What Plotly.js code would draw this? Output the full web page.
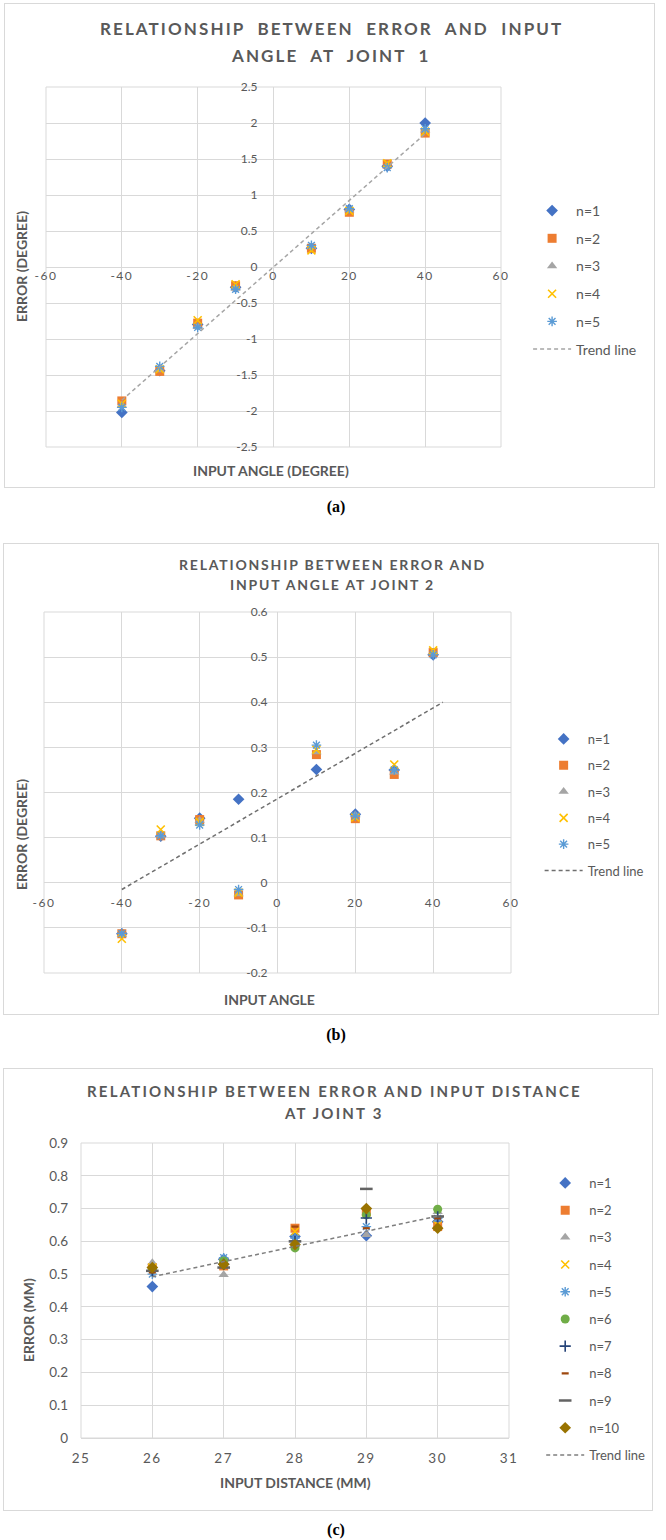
<!DOCTYPE html>
<html>
<head>
<meta charset="utf-8">
<script src="https://cdn.plot.ly/plotly-3.0.1.min.js"></script>
<style>
    body { margin: 0; width: 666px; height: 1540px; background: #fff; position: relative; }
    .panel { position: absolute; border: 1px solid #d9d9d9; box-sizing: border-box; }
    .caption { position: absolute; left: 0; width: 672px; text-align: center;
               font: bold 16px "Liberation Serif", "Times New Roman", serif; color: #000; }
    .xtick text { letter-spacing: 1.5px; }
</style>
</head>
<body>
<div id="chart-a" class="panel" style="left:4px; top:3px; width:651px; height:485px;"></div>
<div class="caption" style="top:498px;">(a)</div>
<div id="chart-b" class="panel" style="left:3px; top:543px; width:656px; height:472px;"></div>
<div class="caption" style="top:1026px;">(b)</div>
<div id="chart-c" class="panel" style="left:3px; top:1068px; width:650px; height:443px;"></div>
<div class="caption" style="top:1521px;">(c)</div>

<script>
// ---- data ----
// (a) joint 1: error vs input angle
const anglesA = [-40, -30, -20, -10, 10, 20, 30, 40];
const a_n1 = [-2.02, -1.44, -0.80, -0.28, 0.26, 0.80, 1.40, 2.00];
const a_n2 = [-1.86, -1.45, -0.78, -0.26, 0.26, 0.76, 1.43, 1.86];
const a_n3 = [-1.92, -1.43, -0.83, -0.30, 0.28, 0.79, 1.41, 1.90];
const a_n4 = [-1.90, -1.42, -0.74, -0.24, 0.23, 0.78, 1.44, 1.88];
const a_n5 = [-1.95, -1.38, -0.84, -0.31, 0.30, 0.81, 1.38, 1.92];
const trendAx = [-40, 40];
const trendAy = [-1.85, 1.85];

// (b) joint 2: error vs input angle
const anglesB = [-40, -30, -20, -10, 10, 20, 30, 40];
const b_n1 = [-0.113, 0.103, 0.143, 0.185, 0.251, 0.152, 0.250, 0.505];
const b_n2 = [-0.113, 0.104, 0.140, -0.027, 0.284, 0.142, 0.240, 0.510];
const b_n3 = [-0.115, 0.105, 0.138, -0.025, 0.290, 0.150, 0.245, 0.510];
const b_n4 = [-0.124, 0.118, 0.135, -0.022, 0.295, 0.145, 0.262, 0.515];
const b_n5 = [-0.112, 0.104, 0.128, -0.015, 0.305, 0.148, 0.250, 0.505];
const trendBx = [-40, 42.5];
const trendBy = [-0.015, 0.40];

// (c) joint 3: error vs input distance
const distC = [26, 27, 28, 29, 30];
const c_n1 = [0.462, 0.545, 0.615, 0.617, 0.660];
const c_n2 = [0.520, 0.525, 0.640, 0.690, 0.645];
const c_n3 = [0.535, 0.498, 0.590, 0.620, 0.690];
const c_n4 = [0.520, 0.535, 0.630, 0.690, 0.650];
const c_n5 = [0.500, 0.550, 0.610, 0.645, 0.670];
const c_n6 = [0.515, 0.540, 0.580, 0.681, 0.698];
const c_n7 = [0.510, 0.530, 0.600, 0.671, 0.675];
const c_n8 = [0.505, 0.525, 0.645, 0.640, 0.670];
const c_n9 = [0.510, 0.520, 0.600, 0.760, 0.676];
const c_n10 = [0.520, 0.530, 0.590, 0.700, 0.640];
const trendCx = [26, 30];
const trendCy = [0.492, 0.677];

// axes ticks
const xTicksAB = [-60, -40, -20, 0, 20, 40, 60];
const yTicksA = [-2.5, -2, -1.5, -1, -0.5, 0, 0.5, 1, 1.5, 2, 2.5];
const yTicksB = [-0.2, -0.1, 0, 0.1, 0.2, 0.3, 0.4, 0.5, 0.6];
const xTicksC = [25, 26, 27, 28, 29, 30, 31];
const yTicksC = [0, 0.1, 0.2, 0.3, 0.4, 0.5, 0.6, 0.7, 0.8, 0.9];

// excel-like marker styles for n=1..n=10
const markerStyles = [
    { symbol: 'diamond', color: '#4472C4', size: 9 },
    { symbol: 'square', color: '#ED7D31', size: 9 },
    { symbol: 'triangle-up', color: '#A5A5A5', size: 9 },
    { symbol: 'x-thin-open', color: '#FFC000', size: 8, lw: 1.6 },
    { symbol: 'asterisk-open', color: '#5B9BD5', size: 8, lw: 1.4 },
    { symbol: 'circle', color: '#70AD47', size: 9 },
    { symbol: 'cross-thin-open', color: '#264478', size: 8, lw: 1.6 },
    { symbol: 'line-ew-open', color: '#9E480E', size: 5, lw: 2.2 },
    { symbol: 'line-ew-open', color: '#636363', size: 9, lw: 2.5 },
    { symbol: 'diamond', color: '#997300', size: 9 }
];

const TEXT = '#595959';
const GRID = '#d9d9d9';
const FONT = 'Lato, "Open Sans", sans-serif';

function buildTraces(xs, series, trendX, trendY, trendColor) {
    const traces = series.map((ys, i) => {
        const st = markerStyles[i];
        return {
            type: 'scatter', mode: 'markers', name: 'n=' + (i + 1),
            legendgroup: 'g' + i,
            x: xs, y: ys,
            marker: {
                symbol: st.symbol, size: st.size, color: st.color,
                line: { color: st.color, width: st.lw || 0 }
            }
        };
    });
    traces.push({
        type: 'scatter', mode: 'lines', name: 'Trend line', legendgroup: 'trend',
        x: trendX, y: trendY,
        line: { color: trendColor, width: 1.5, dash: '4px,3px' }
    });
    return traces;
}

function axis(range, ticks, size) {
    return {
        range: range, tickmode: 'array', tickvals: ticks, ticktext: ticks.map(String),
        showgrid: true, gridcolor: GRID, gridwidth: 1,
        zeroline: true, zerolinecolor: GRID, zerolinewidth: 1,
        showline: false, ticks: '',
        tickfont: { family: FONT, size: size, color: TEXT },
        fixedrange: true
    };
}

// container pixel -> paper coords for annotations
function toPaper(px, py, w, h, m) {
    const pw = w - m.l - m.r, ph = h - m.t - m.b;
    return { x: (px - m.l) / pw, y: 1 - (py - m.t) / ph };
}

function textAt(text, px, py, w, h, m, opt) {
    const p = toPaper(px, py, w, h, m);
    return {
        text: text, xref: 'paper', yref: 'paper', x: p.x, y: p.y,
        xanchor: 'center', yanchor: 'middle', showarrow: false,
        textangle: opt.rotate ? -90 : 0,
        font: { family: FONT, size: opt.size, color: TEXT, weight: 'bold' }
    };
}

function drawPanel(id, opts) {
    const w = opts.w, h = opts.h, m = opts.margin;
    const xr = opts.xRange, yr = opts.yRange;
    const xaxis = axis(xr, opts.xTicks, opts.tickSize);
    const yaxis = axis(yr, opts.yTicks, opts.tickSize);
    xaxis.ticklabelstandoff = opts.xStandoff;
    yaxis.ticklabelstandoff = opts.yStandoff;
    if (opts.crossAtZero) {
        // excel style: axes cross at the origin
        xaxis.anchor = 'free';
        xaxis.position = (0 - yr[0]) / (yr[1] - yr[0]);
        yaxis.anchor = 'free';
        yaxis.position = (0 - xr[0]) / (xr[1] - xr[0]);
    }

    // chart title, one annotation per line (excel spaces the lines wider than plotly)
    const spaced = t => '<span style="letter-spacing:' + opts.titleSpacing + 'px">' + t + '</span>';
    const annotations = opts.titleLines.map(ln =>
        textAt(spaced(ln[0]), opts.titleX, ln[1], w, h, m, { size: opts.titleSize }));
    annotations.push(textAt(opts.xTitle[0], opts.xTitle[1], opts.xTitle[2], w, h, m, { size: 14 }));
    annotations.push(textAt(opts.yTitle[0], opts.yTitle[1], opts.yTitle[2], w, h, m, { size: 14, rotate: true }));

    const layout = {
        width: w, height: h, margin: m,
        paper_bgcolor: '#fff', plot_bgcolor: '#fff',
        font: { family: FONT, color: TEXT },
        xaxis: xaxis, yaxis: yaxis,
        showlegend: true,
        legend: {
            xref: 'container', yref: 'container', x: opts.legendX, y: opts.legendY,
            xanchor: 'left', yanchor: 'top', bgcolor: 'rgba(0,0,0,0)', maxheight: 420,
            font: { family: FONT, size: opts.legendSize, color: TEXT },
            tracegroupgap: opts.legendGap, itemwidth: 38
        },
        // outer gridlines of the plot area
        shapes: [{
            type: 'rect', xref: 'paper', yref: 'paper', x0: 0, x1: 1, y0: 0, y1: 1,
            line: { color: GRID, width: 1 }, layer: 'below'
        }],
        annotations: annotations
    };
    Plotly.newPlot(id, opts.traces, layout, { displayModeBar: false, staticPlot: true });
}

drawPanel('chart-a', {
    w: 649, h: 483, margin: { l: 41, r: 153, t: 83, b: 40 },
    xRange: [-60, 60], yRange: [-2.5, 2.5], xTicks: xTicksAB, yTicks: yTicksA,
    tickSize: 12, xStandoff: 0, yStandoff: 16, crossAtZero: true,
    titleLines: [['RELATIONSHIP  BETWEEN  ERROR  AND  INPUT', 25], ['ANGLE  AT  JOINT  1', 51]],
    titleX: 326, titleSize: 17, titleSpacing: 2.1,
    legendX: 0.806, legendY: 1 - 191 / 483, legendSize: 14, legendGap: 6.5,
    xTitle: ['INPUT ANGLE (DEGREE)', 266, 466], yTitle: ['ERROR (DEGREE)', 16, 263],
    traces: buildTraces(anglesA, [a_n1, a_n2, a_n3, a_n4, a_n5], trendAx, trendAy, '#A5A5A5')
});

drawPanel('chart-b', {
    w: 654, h: 470, margin: { l: 40, r: 147, t: 68, b: 41 },
    xRange: [-60, 60], yRange: [-0.2, 0.6], xTicks: xTicksAB, yTicks: yTicksB,
    tickSize: 12, xStandoff: 11, yStandoff: 10, crossAtZero: true,
    titleLines: [['RELATIONSHIP BETWEEN ERROR AND', 20.5], ['INPUT ANGLE AT JOINT 2', 40.5]],
    titleX: 328, titleSize: 14, titleSpacing: 1.8,
    legendX: 0.819, legendY: 1 - 180 / 470, legendSize: 13, legendGap: 6.4,
    xTitle: ['INPUT ANGLE', 265, 455], yTitle: ['ERROR (DEGREE)', 17, 291],
    traces: buildTraces(anglesB, [b_n1, b_n2, b_n3, b_n4, b_n5], trendBx, trendBy, '#6F6F6F')
});

drawPanel('chart-c', {
    w: 648, h: 441, margin: { l: 77, r: 143, t: 74, b: 72 },
    xRange: [25, 31], yRange: [0, 0.9], xTicks: xTicksC, yTicks: yTicksC,
    tickSize: 13.5, xStandoff: 10, yStandoff: 12, crossAtZero: false,
    titleLines: [['RELATIONSHIP BETWEEN ERROR AND INPUT DISTANCE', 22], ['AT JOINT 3', 44]],
    titleX: 330, titleSize: 15, titleSpacing: 2.2,
    legendX: 0.829, legendY: 1 - 99 / 441, legendSize: 13, legendGap: 7.3,
    xTitle: ['INPUT DISTANCE (MM)', 291, 413], yTitle: ['ERROR (MM)', 24, 251],
    traces: buildTraces(distC, [c_n1, c_n2, c_n3, c_n4, c_n5, c_n6, c_n7, c_n8, c_n9, c_n10],
        trendCx, trendCy, '#7F7F7F')
});
</script>
</body>
</html>
